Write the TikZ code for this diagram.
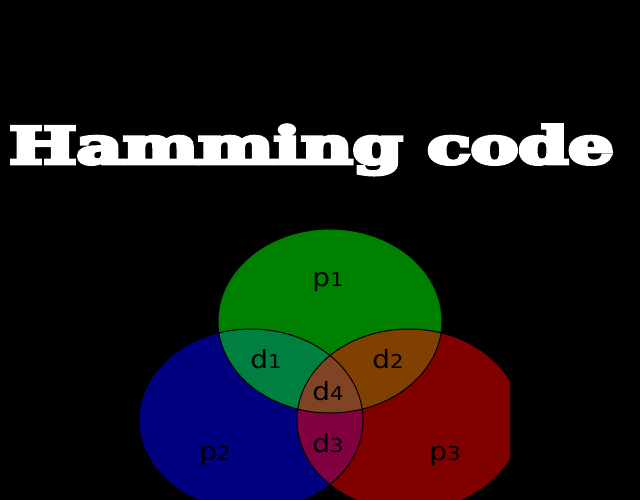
\documentclass[tikz,border=0pt]{standalone}
\usepackage{fontspec}
\setmainfont{DejaVu Sans}
\newfontfamily\titlefont{DejaVu Serif}[BoldFeatures={FakeBold=7}]
\definecolor{cg}{RGB}{0,128,0}
\definecolor{cb}{RGB}{0,0,128}
\definecolor{cr}{RGB}{128,0,0}
\definecolor{cgb}{RGB}{0,128,64}
\definecolor{cgr}{RGB}{128,64,0}
\definecolor{cbr}{RGB}{128,0,64}
\definecolor{cgbr}{RGB}{128,68,36}
\newcommand\vennlbl[2]{\scalebox{1.12}[1]{{\fontsize{25}{25}\selectfont #1}{\fontsize{19}{19}\selectfont #2}}}
\tikzset{
  edge/.style={draw=black, line width=1pt},
  lbl/.style={anchor=base, inner sep=0pt, text=black},
  ttl/.style={anchor=base west, inner sep=0pt, text=white},
}
\begin{document}
\begin{tikzpicture}[x=1pt,y=-1pt]
\fill[black] (0,0) rectangle (640,500);
\useasboundingbox (0,0) rectangle (640,500);
\def\G{(330,321) ellipse [x radius=112pt, y radius=92pt]}
\def\B{(251,420) ellipse [x radius=112pt, y radius=91pt]}
\def\R{(409,420) ellipse [x radius=112pt, y radius=91pt]}
\begin{scope}
  \clip (0,0) rectangle (510,500);
  \fill[cg] \G;
  \fill[cb] \B;
  \fill[cr] \R;
  \begin{scope}\clip \B; \fill[cbr] \R; \end{scope}
  \begin{scope}\clip \G; \fill[cgb] \B; \fill[cgr] \R; \clip \B; \fill[cgbr] \R; \end{scope}
  \draw[edge] \G;
  \draw[edge] \B;
  \draw[edge] \R;
\end{scope}
\node[ttl] (title) at (9,163.5) {\resizebox{604pt}{38.5pt}{\titlefont\bfseries Hamming code}};
\node[lbl] (p1) at (328,286) {\vennlbl{p}{1}};
\node[lbl] (d1) at (266,368) {\vennlbl{d}{1}};
\node[lbl] (d2) at (388,368) {\vennlbl{d}{2}};
\node[lbl] (d4) at (328,400) {\vennlbl{d}{4}};
\node[lbl] (d3) at (328,452) {\vennlbl{d}{3}};
\node[lbl] (p2) at (215,460) {\vennlbl{p}{2}};
\node[lbl] (p3) at (445,460) {\vennlbl{p}{3}};
\end{tikzpicture}
\end{document}
